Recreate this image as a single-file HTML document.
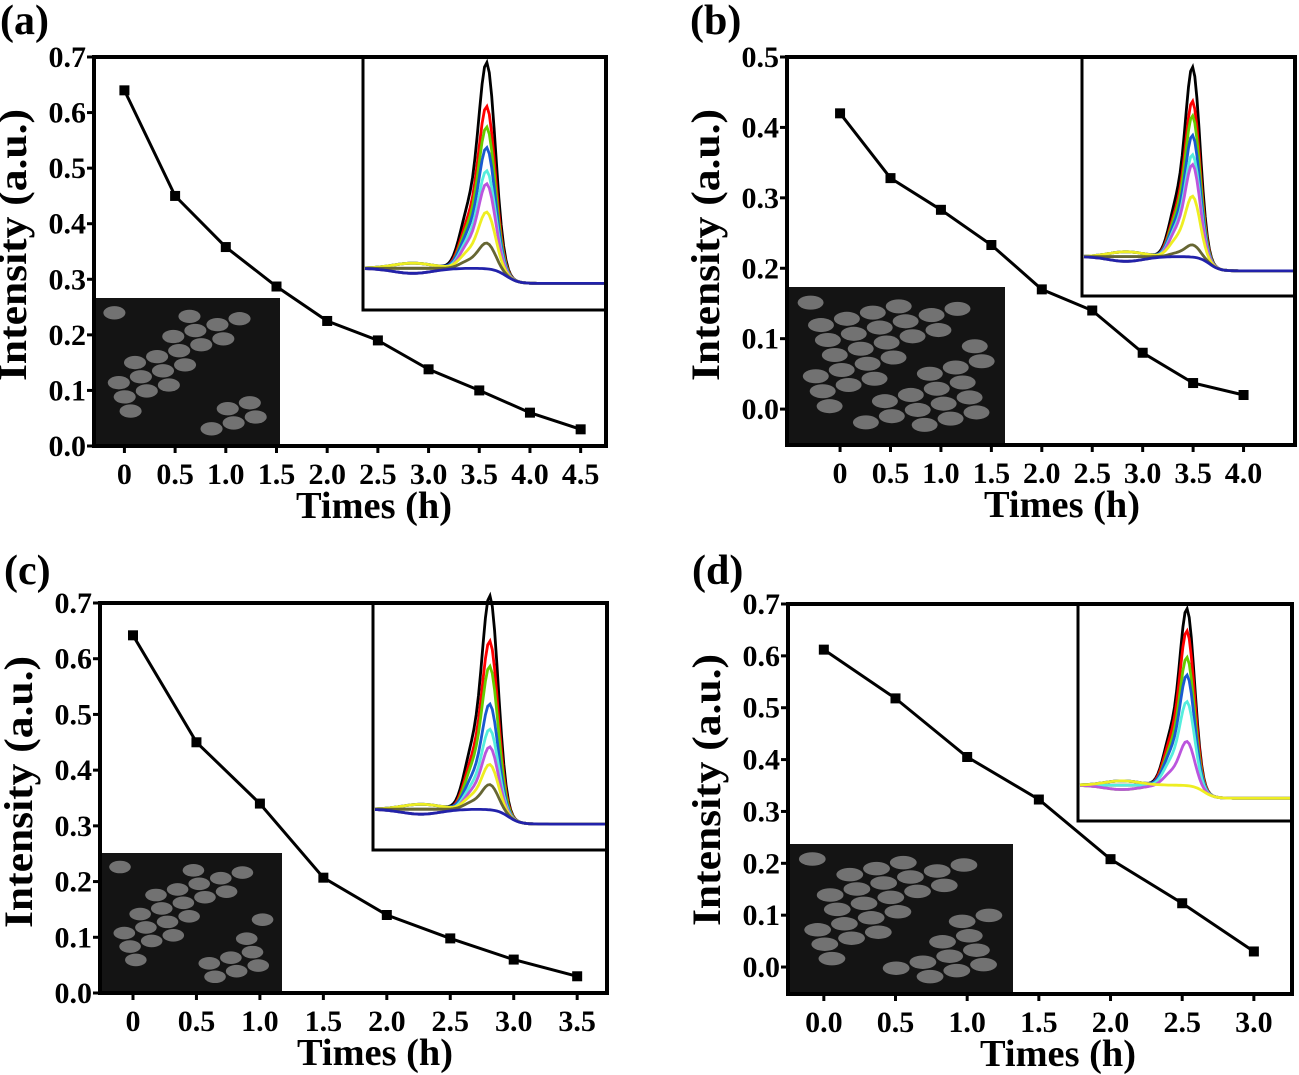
<!DOCTYPE html>
<html><head><meta charset="utf-8">
<style>
html,body{margin:0;padding:0;background:#fff;}
svg{display:block;}
text{font-family:"Liberation Serif",serif;font-weight:bold;fill:#000;}
</style></head>
<body>
<svg id="fig" width="1299" height="1075" viewBox="0 0 1299 1075"></svg>
<script>
// ---- data ----
const timesA = [0,0.5,1.0,1.5,2.0,2.5,3.0,3.5,4.0,4.5];
const valuesA = [0.64,0.45,0.358,0.287,0.225,0.19,0.138,0.1,0.06,0.03];
const timesB = [0,0.5,1.0,1.5,2.0,2.5,3.0,3.5,4.0];
const valuesB = [0.42,0.328,0.283,0.233,0.17,0.14,0.08,0.037,0.02];
const timesC = [0,0.5,1.0,1.5,2.0,2.5,3.0,3.5];
const valuesC = [0.642,0.45,0.34,0.207,0.14,0.098,0.06,0.03];
const timesD = [0,0.5,1.0,1.5,2.0,2.5,3.0];
const valuesD = [0.612,0.518,0.405,0.323,0.208,0.123,0.03];
const xTickLabelsA = ["0","0.5","1.0","1.5","2.0","2.5","3.0","3.5","4.0","4.5"];
const xTickLabelsB = ["0","0.5","1.0","1.5","2.0","2.5","3.0","3.5","4.0"];
const xTickLabelsC = ["0","0.5","1.0","1.5","2.0","2.5","3.0","3.5"];
const xTickLabelsD = ["0.0","0.5","1.0","1.5","2.0","2.5","3.0"];
const yTicks7 = [0,0.1,0.2,0.3,0.4,0.5,0.6,0.7];
const yTicks5 = [0,0.1,0.2,0.3,0.4,0.5];
const specColors = ["#000","#f00","#6c0","#1a5ad0","#5ed","#b5d","#ee2","#663","#22a"];
const specHeightsA = [0.8,0.63,0.55,0.47,0.38,0.33,0.22,0.1,0.0];
const specHeightsB = [0.78,0.64,0.58,0.5,0.42,0.38,0.25,0.05,0.0];
const specHeightsC = [0.85,0.67,0.57,0.42,0.32,0.25,0.18,0.1,0.0];
const specHeightsD = [0.8,0.7,0.58,0.5,0.38,0.2,0.0];

const NS="http://www.w3.org/2000/svg";
const svg=document.getElementById('fig');
function el(tag,attrs,parent){const e=document.createElementNS(NS,tag);for(const k in attrs)e.setAttribute(k,attrs[k]);(parent||svg).appendChild(e);return e;}

function panel(c){
  const g=el('g',{});
  
  
  const sx=v=>c.L+(v-c.xmin)/(c.xmax-c.xmin)*(c.R-c.L);
  const sy=v=>c.B-(v-c.ymin)/(c.ymax-c.ymin)*(c.B-c.T);
  const lab=el('text',{x:c.lx,y:c.ly,'font-size':42},g);lab.textContent='('+c.id+')';
  
  
  // SEM image
  const sem=el('g',{},g);
  
  
  el('rect',{x:c.sem[0],y:c.sem[1],width:c.sem[2],height:c.sem[3],fill:'#141414'},sem);
  for(let i=0;i<c.blobs;i++){
    const fx=((i*37)%100)/100, fy=((i*61)%100)/100;
    el('ellipse',{cx:c.sem[0]+c.sem[2]*(0.1+0.8*fx),cy:c.sem[1]+c.sem[3]*(0.1+0.8*fy),rx:c.sem[2]*0.06,ry:c.sem[3]*0.045,fill:'#9a9a9a',opacity:0.7},sem);
  }
  // inset
  const ins=el('g',{},g);
  
  
  const [ix,iy,iw,ih]=c.inset;
  el('rect',{x:ix,y:iy,width:iw,height:ih,fill:'#fff',stroke:'#000','stroke-width':3},ins);
  const pc=c.peak;
  c.spec.forEach((h,k)=>{
    let d='';
    for(let i=0;i<=100;i++){
      const t=i/100;
      const step=1/(1+Math.exp((t-(pc+0.08))/0.025));
      const base=0.835+0.06*(1-step)+0.02*Math.exp(-Math.pow((t-0.2)/0.12,2))*(k%3-1);
      const pk=h*Math.exp(-Math.pow((t-pc)/0.05,2))+h*0.25*Math.exp(-Math.pow((t-pc+0.08)/0.05,2));
      const yy=iy+ih*(base-pk);
      d+=(i?'L':'M')+(ix+2+t*(iw-4)).toFixed(1)+' '+yy.toFixed(1);
    }
    el('path',{d:d,fill:'none',stroke:specColors[k],'stroke-width':2.8},ins);
  });
  const fr=el('rect',{x:c.L,y:c.T,width:c.R-c.L,height:c.B-c.T,fill:'none',stroke:'#000','stroke-width':4},g);
  
  
  c.yt.forEach(v=>{
    const y=sy(v);
    el('line',{x1:c.L-7,x2:c.L,y1:y,y2:y,stroke:'#000','stroke-width':3},g);
    const t=el('text',{x:c.L-8,y:y+10,'font-size':30,'text-anchor':'end'},g);t.textContent=v.toFixed(1);
    
    
  });
  c.times.forEach((v,i)=>{
    const x=sx(v);
    el('line',{x1:x,x2:x,y1:c.B,y2:c.B+7,stroke:'#000','stroke-width':3},g);
    const t=el('text',{x:x,y:c.B+38,'font-size':30,'text-anchor':'middle'},g);t.textContent=c.xl[i];
    
    
  });
  const xt=el('text',{x:c.xtx,y:c.B+72,'font-size':38,'text-anchor':'middle',textLength:156,lengthAdjust:'spacingAndGlyphs'},g);xt.textContent='Times (h)';
  
  
  const ycx=c.L-68, ycy=c.ycy;
  const yt=el('text',{x:ycx,y:ycy,'font-size':40,'text-anchor':'middle',textLength:272,lengthAdjust:'spacingAndGlyphs',transform:'rotate(-90 '+ycx+' '+ycy+')'},g);yt.textContent='Intensity (a.u.)';
  
  
  const pts=c.times.map((v,i)=>sx(v).toFixed(1)+','+sy(c.vals[i]).toFixed(1)).join(' ');
  const ln=el('polyline',{points:pts,fill:'none',stroke:'#000','stroke-width':3},g);
  
  
  c.times.forEach((v,i)=>{
    const m=el('rect',{x:sx(v)-5,y:sy(c.vals[i])-5,width:10,height:10,fill:'#000'},g);
    
    
  });
}

panel({id:'a',L:94,R:606,T:57,B:446,xmin:-0.3,xmax:4.75,ymin:0,ymax:0.7,yt:yTicks7,times:timesA,vals:valuesA,xl:xTickLabelsA,
  inset:[363,57,243,253],sem:[96,298,184,148],blobs:24,spec:specHeightsA,peak:0.51,lx:0,ly:34,xtx:374,ycy:245});
panel({id:'b',L:787,R:1295,T:57,B:445,xmin:-0.526,xmax:4.51,ymin:-0.051,ymax:0.5,yt:yTicks5,times:timesB,vals:valuesB,xl:xTickLabelsB,
  inset:[1082,57,213,239],sem:[789,287,216,156],blobs:40,spec:specHeightsB,peak:0.52,lx:690,ly:34,xtx:1062,ycy:245});
panel({id:'c',L:100,R:607,T:603,B:993,xmin:-0.26,xmax:3.735,ymin:0,ymax:0.7,yt:yTicks7,times:timesC,vals:valuesC,xl:xTickLabelsC,
  inset:[373,603,234,247],sem:[102,853,180,140],blobs:28,spec:specHeightsC,peak:0.5,lx:4,ly:584,xtx:375,ycy:792});
panel({id:'d',L:788,R:1292,T:604,B:994,xmin:-0.25,xmax:3.266,ymin:-0.052,ymax:0.7,yt:yTicks7,times:timesD,vals:valuesD,xl:xTickLabelsD,
  inset:[1078,604,214,217],sem:[790,844,223,150],blobs:34,spec:specHeightsD,peak:0.51,lx:692,ly:584,xtx:1058,ycy:790});
</script>
</body></html>
